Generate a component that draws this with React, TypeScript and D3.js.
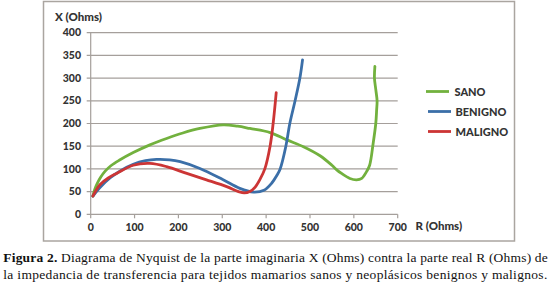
import React from "react";
import * as d3 from "d3";

const xTicks = [0, 100, 200, 300, 400, 500, 600, 700];
const yTicks = [0, 50, 100, 150, 200, 250, 300, 350, 400];

const sano: [number, number][] = [
  [5, 40], [9, 54], [15, 68], [23, 82], [33, 95], [46, 107], [65, 119], [97, 136], [135, 153], [173, 167],
  [210, 179], [249, 189], [302, 197], [335, 194], [363, 189], [409, 180], [447, 164],
  [485, 149], [523, 129], [550, 108], [561, 98], [572, 90], [591, 79], [606, 76],
  [618, 79], [629, 94], [636, 108], [644, 156], [650, 200], [652, 230], [653, 250],
  [650, 275], [647, 300], [648, 326],
];

const benigno: [number, number][] = [
  [5, 40], [20, 58], [44, 80], [70, 97], [97, 110], [125, 118], [150, 121], [180, 120],
  [204, 116], [249, 101], [302, 76], [340, 57], [371, 49], [395, 53], [413, 69],
  [424, 85], [432, 100], [445, 150], [454, 200], [466, 250], [477, 300], [483, 340],
];

const maligno: [number, number][] = [
  [5, 40], [21, 65], [40, 80], [59, 90], [97, 108], [135, 112], [173, 105], [219, 90],
  [264, 76], [310, 61], [337, 50], [350, 47], [363, 50], [375, 60], [386, 77],
  [397, 100], [409, 150], [416, 200], [423, 268],
];

const seriesNames = ["SANO", "BENIGNO", "MALIGNO"];
const seriesData = [sano, benigno, maligno];
const seriesColors = ["#72b13e", "#3b6fa8", "#cc3535"];

const captionBold = "Figura 2.";
const captionLine1 = " Diagrama de Nyquist de la parte imaginaria X (Ohms) contra la parte real R (Ohms) de";
const captionLine2 = "la impedancia de transferencia para tejidos mamarios sanos y neoplásicos benignos y malignos.";

export default function App() {
  const x = d3.scaleLinear().domain([0, 700]).range([90.7, 397.7]);
  const y = d3.scaleLinear().domain([0, 400]).range([214.3, 32.7]);
  const line = d3
    .line<[number, number]>()
    .x((d) => x(d[0]))
    .y((d) => y(d[1]))
    .curve(d3.curveCatmullRom.alpha(0.5));

  const labelFont = "Lato, 'Liberation Sans', sans-serif";
  const grid = "#a59f9b";
  const textColor = "#333";
  const serif = "'Liberation Serif', serif";

  return (
    <svg
      width={553}
      height={285}
      style={{ position: "absolute", left: 0, top: 0, background: "#fff" }}
    >
      <rect x={0} y={0} width={553} height={285} fill="#fff" />
      <rect x={43.5} y={1.5} width={471} height={239.5} fill="#fff" stroke="#aaa5a0" strokeWidth={1.5} />

      {yTicks.map((t) => (
        <g key={"y" + t}>
          <line x1={x(0) - 4} x2={x(700)} y1={y(t)} y2={y(t)} stroke={grid} strokeWidth={1.2} />
          <text
            x={81}
            y={y(t) + 3.6}
            textAnchor="end"
            fontFamily={labelFont}
            fontWeight={900}
            fontSize={10.5}
            fill={textColor}
          >
            {t}
          </text>
        </g>
      ))}
      <line x1={x(0)} x2={x(0)} y1={y(400)} y2={y(0)} stroke={grid} strokeWidth={1.2} />
      {xTicks.map((t) => (
        <g key={"x" + t}>
          <line x1={x(t)} x2={x(t)} y1={y(0)} y2={y(0) + 4} stroke={grid} strokeWidth={1.2} />
          <text
            x={x(t)}
            y={230.5}
            textAnchor="middle"
            fontFamily={labelFont}
            fontWeight={900}
            fontSize={10.5}
            fill={textColor}
          >
            {t}
          </text>
        </g>
      ))}

      <text x={55} y={20.5} fontFamily={labelFont} fontWeight={900} fontSize={11.5} fill={textColor}>
        X (Ohms)
      </text>
      <text x={415.5} y={229.8} fontFamily={labelFont} fontWeight={900} fontSize={11.5} fill={textColor}>
        R (Ohms)
      </text>

      {seriesData.map((d, i) => (
        <path
          key={seriesNames[i]}
          d={line(d) || ""}
          fill="none"
          stroke={seriesColors[i]}
          strokeWidth={2.8}
          strokeLinecap="round"
          strokeLinejoin="round"
        />
      ))}

      {seriesNames.map((n, i) => (
        <g key={"lg" + n}>
          <line
            x1={426 + (i > 0 ? 2 : 0)}
            x2={449 + (i > 0 ? 2 : 0)}
            y1={91.5 + i * 20}
            y2={91.5 + i * 20}
            stroke={seriesColors[i]}
            strokeWidth={2.8}
          />
          <text
            x={454.5 + (i > 0 ? 1 : 0)}
            y={91.5 + i * 20 + 4}
            fontFamily={labelFont}
            fontWeight={900}
            fontSize={11}
            fill={textColor}
          >
            {n}
          </text>
        </g>
      ))}

      <text
        x={3.3}
        y={261.7}
        fontFamily={serif}
        fontSize={13.5}
        fill="#111"
        textLength={544.5}
        lengthAdjust="spacing"
      >
        <tspan fontWeight="bold">{captionBold}</tspan>
        <tspan>{captionLine1}</tspan>
      </text>
      <text
        x={3.3}
        y={278.8}
        fontFamily={serif}
        fontSize={13.5}
        fill="#111"
        textLength={544}
        lengthAdjust="spacing"
      >
        {captionLine2}
      </text>
    </svg>
  );
}
